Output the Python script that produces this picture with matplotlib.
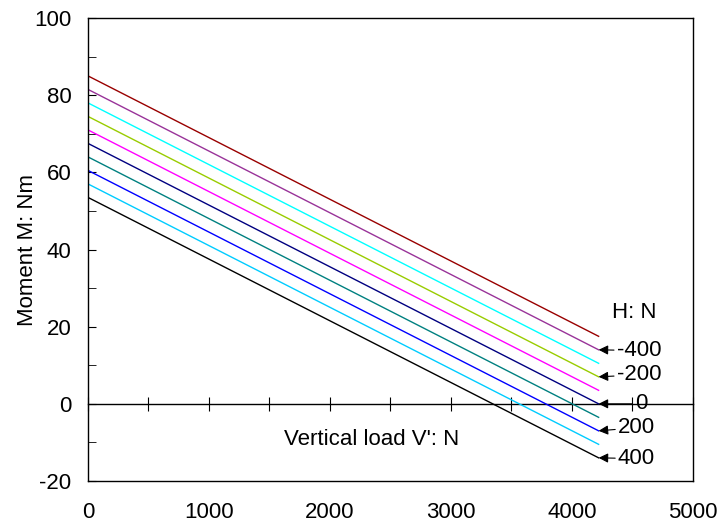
import matplotlib
matplotlib.use('Agg')
import numpy as np
import matplotlib.pyplot as plt

plt.rcParams['font.family'] = ['Liberation Sans', 'DejaVu Sans']
plt.rcParams['axes.unicode_minus'] = False

# Horizontal load H (N) for each line, top to bottom
h_values = [-500, -400, -300, -200, -100, 0, 100, 200, 300, 400]
# Moment at V' = 0 and at the end of each line
m_start = [85.0, 81.5, 78.0, 74.5, 71.0, 67.5, 64.0, 60.5, 57.0, 53.5]
m_end = [17.5, 14.0, 10.5, 7.0, 3.5, 0.0, -3.5, -7.0, -10.5, -14.0]
v_start = 0
v_end = 4220
colors = ['#990000', '#993399', '#00FFFF', '#99CC00', '#FF00FF',
          '#000080', '#008080', '#0000FF', '#00CCFF', '#000000']

# labelled lines and where their labels sit
label_h = [-400, -200, 0, 200, 400]
label_text = ['-400', '-200', '0', '200', '400']
label_x = [4370, 4370, 4520, 4380, 4380]
label_y = [13.8, 7.5, 0.0, -6.2, -14.2]

fig = plt.figure(figsize=(7.2, 5.24), dpi=100)
ax = fig.add_axes([0.1222, 0.0821, 0.8403, 0.8835])

for h, y0, y1, c in zip(h_values, m_start, m_end, colors):
    ax.plot([v_start, v_end], [y0, y1], color=c, lw=1.0)

ax.set_xlim(0, 5000)
ax.set_ylim(-20, 100)

# x tick labels sit below the box, no ticks there
ax.set_xticks(np.arange(0, 5001, 1000))
ax.tick_params(axis='x', length=0, pad=15, labelsize=16)

# y ticks inside every 10, labels every 20
ax.set_yticks(np.arange(-20, 101, 20))
ax.set_yticks(np.arange(-20, 101, 10), minor=True)
ax.tick_params(axis='y', which='both', direction='in', length=6,
               labelsize=16, pad=12)

# axis line through zero with crossing ticks
zero_ax = ax.secondary_xaxis(0, transform=ax.transData)
zero_ax.set_xticks(np.arange(0, 5001, 500))
zero_ax.tick_params(axis='x', direction='inout', length=10, labelbottom=False)
zero_ax.spines['bottom'].set_linewidth(1.0)

for sp in ax.spines.values():
    sp.set_linewidth(1.0)

ax.set_ylabel('Moment M: Nm', fontsize=16, labelpad=-3)
ax.text(2340, -9.3, "Vertical load V': N", fontsize=16, ha='center', va='center')
ax.text(4330, 23.6, 'H: N', fontsize=16, ha='left', va='center')

for h, txt, tx, ty in zip(label_h, label_text, label_x, label_y):
    i = h_values.index(h)
    ax.annotate(txt, xy=(v_end, m_end[i]), xytext=(tx, ty),
                fontsize=16, ha='left', va='center',
                arrowprops=dict(arrowstyle='-|>', color='black', lw=0.8,
                                mutation_scale=14, shrinkA=0, shrinkB=0))

fig.savefig('out.png', dpi=100)
